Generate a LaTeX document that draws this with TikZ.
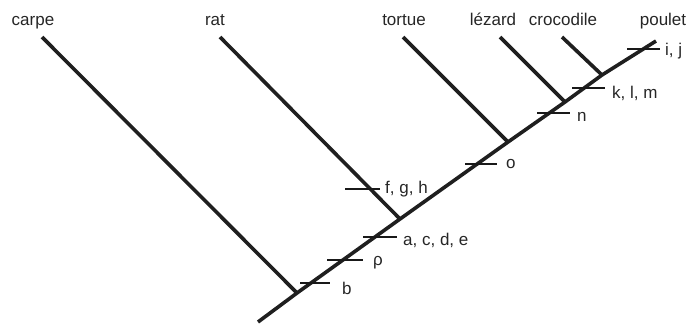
\documentclass[tikz,border=0pt]{standalone}
\usepackage{fontspec}
\setmainfont{Liberation Sans}
\begin{document}
\begin{tikzpicture}[x=1pt,y=-1pt,
  branch/.style={line width=3.6pt,draw=black!88,line cap=butt},
  tick/.style={line width=1.3pt,draw=black!90},
  lab/.style={font=\fontsize{17}{17}\selectfont,text=black!85,inner sep=0pt},
  toplab/.style={lab,anchor=base},
  sidelab/.style={lab,anchor=west}]
\useasboundingbox (0,0) rectangle (691,327);
% trunk and junctions
\coordinate (root) at (258,322);
\coordinate (jcarpe) at (297,293);
\coordinate (jrat) at (400,219);
\coordinate (jtortue) at (508,142);
\coordinate (jlezard) at (565,102);
\coordinate (jcroco) at (602,75);
\coordinate (tip) at (656,41);
% branch tops
\coordinate (tcarpe) at (42,37);
\coordinate (trat) at (220,37);
\coordinate (ttortue) at (403,37);
\coordinate (tlezard) at (500,37);
\coordinate (tcroco) at (562,37);
\draw[branch] (root) -- (jcarpe) -- (jrat) -- (jtortue) -- (jlezard) -- (jcroco) -- (tip);
\draw[branch] (tcarpe) -- (jcarpe);
\draw[branch] (trat) -- (jrat);
\draw[branch] (ttortue) -- (jtortue);
\draw[branch] (tlezard) -- (jlezard);
\draw[branch] (tcroco) -- (jcroco);
% taxon labels
\node[toplab] (lcarpe) at (33,25) {carpe};
\node[toplab] (lrat) at (215,25) {rat};
\node[toplab] (ltortue) at (404,25) {tortue};
\node[toplab] (llezard) at (493,25) {lézard};
\node[toplab] (lcroco) at (563,25) {crocodile};
\node[toplab] (lpoulet) at (663,25) {poulet};
% character ticks
\coordinate (ij1) at (627,49); \coordinate (ij2) at (660,49);
\coordinate (klm1) at (572,88); \coordinate (klm2) at (605,88);
\coordinate (n1) at (537,113); \coordinate (n2) at (570,113);
\coordinate (o1) at (465,164); \coordinate (o2) at (497,164);
\coordinate (fgh1) at (345,189); \coordinate (fgh2) at (380,189);
\coordinate (acde1) at (363,237); \coordinate (acde2) at (397,237);
\coordinate (rho1) at (327,260); \coordinate (rho2) at (363,260);
\coordinate (b1) at (300,283); \coordinate (b2) at (330,283);
\foreach \t in {ij,klm,n,o,fgh,acde,rho,b} \draw[tick] (\t1) -- (\t2);
\node[sidelab] (lij) at (665,51) {i, j};
\node[sidelab] (lklm) at (612,93) {k, l, m};
\node[sidelab] (ln) at (577,117) {n};
\node[sidelab] (lo) at (506,164) {o};
\node[sidelab] (lfgh) at (385,189) {f, g, h};
\node[sidelab] (lacde) at (403,240) {a, c, d, e};
\node[sidelab] (lrho) at (373,263) {ρ};
\node[sidelab] (lb) at (342,288) {b};
\end{tikzpicture}
\end{document}
